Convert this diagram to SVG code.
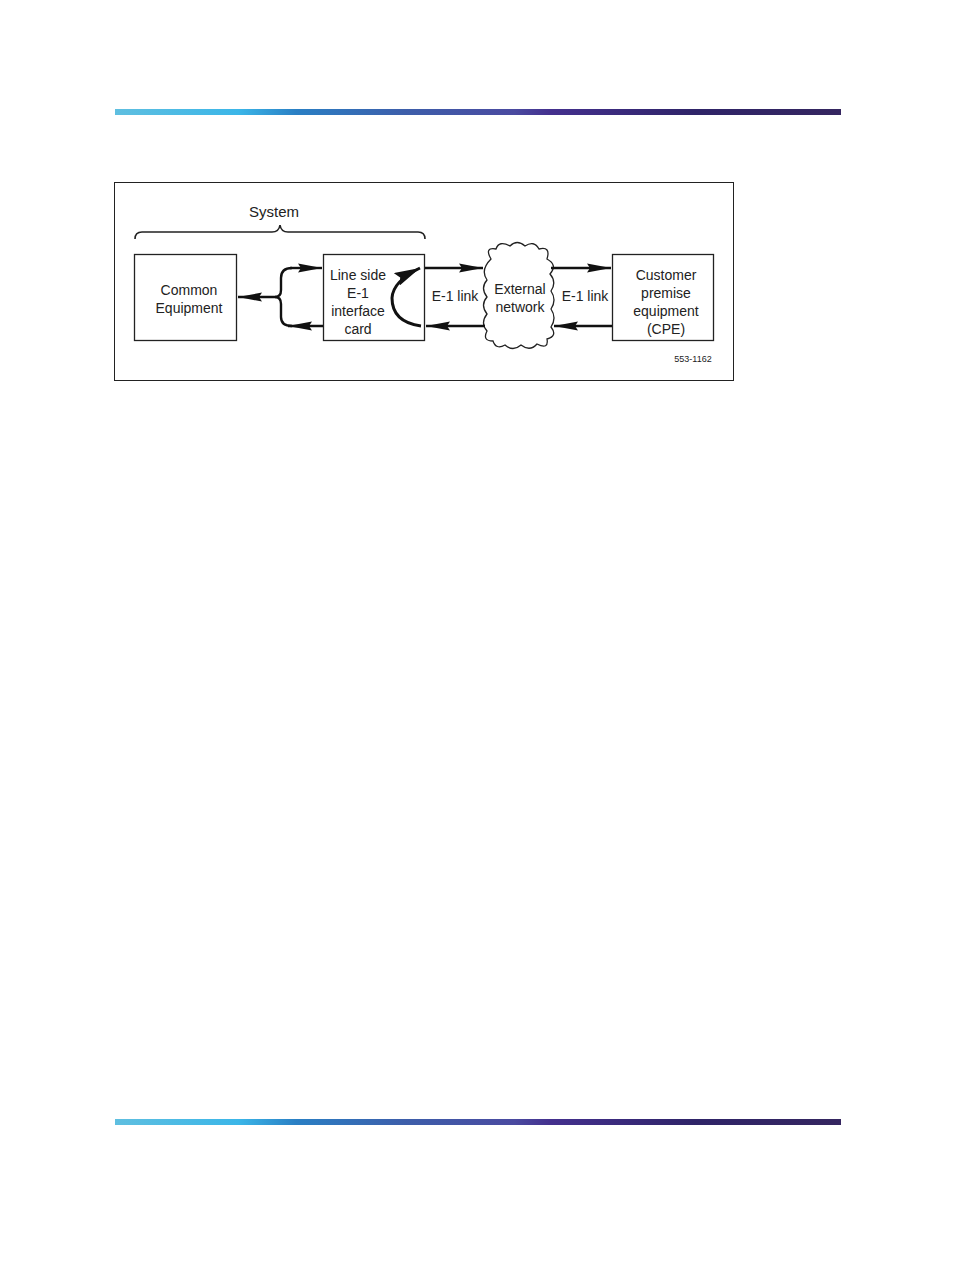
<svg xmlns="http://www.w3.org/2000/svg" width="954" height="1272" viewBox="0 0 954 1272">
<defs>
<linearGradient id="bar" x1="0" y1="0" x2="1" y2="0">
<stop offset="0" stop-color="#5fbfe0"/>
<stop offset="0.17" stop-color="#3bb6e8"/>
<stop offset="0.25" stop-color="#2a7fc4"/>
<stop offset="0.4" stop-color="#3d5eaa"/>
<stop offset="0.55" stop-color="#4a4aa0"/>
<stop offset="0.6" stop-color="#44308e"/>
<stop offset="0.8" stop-color="#2f2468"/>
<stop offset="1" stop-color="#352660"/>
</linearGradient>
<marker id="ah" viewBox="0 0 24 10" refX="24" refY="5" markerWidth="24" markerHeight="10" markerUnits="userSpaceOnUse" orient="auto">
<path d="M0,0.5 L24,5 L0,9.5 L3,5 Z" fill="#111"/>
</marker>
<marker id="ahb" viewBox="0 0 26 14" refX="26" refY="7" markerWidth="26" markerHeight="14" markerUnits="userSpaceOnUse" orient="auto">
<path d="M0,0 L26,7 L0,14 L4,7 Z" fill="#111"/>
</marker>
</defs>
<style>
.box{fill:#fff;stroke:#222;stroke-width:1.3}
.t{font-family:"Liberation Sans",Arial,sans-serif;font-size:14px;fill:#222;text-anchor:middle}
.ln{fill:none;stroke:#111;stroke-width:2.4}
</style>
<rect x="0" y="0" width="954" height="1272" fill="#fff"/>
<rect x="115" y="109" width="726" height="6" fill="url(#bar)"/>
<rect x="115" y="1119" width="726" height="6" fill="url(#bar)"/>
<rect x="114.5" y="182.5" width="619" height="198" fill="#fff" stroke="#222" stroke-width="1"/>
<g id="system-label">
<text class="t" x="274" y="217" style="font-size:15px">System</text>
<path d="M135,239 Q135,232 142,232 L272,232 Q279,232 280,225 Q281,232 288,232 L418,232 Q425,232 425,239" fill="none" stroke="#222" stroke-width="1.6"/>
</g>
<g id="common-equipment">
<rect class="box" x="134.5" y="254.5" width="102" height="86"/>
<text class="t" x="189" y="295">Common</text>
<text class="t" x="189" y="313">Equipment</text>
</g>
<g id="line-side-card">
<rect class="box" x="323.5" y="254.5" width="101" height="86"/>
<text class="t" x="358" y="280">Line side</text>
<text class="t" x="358" y="298">E-1</text>
<text class="t" x="358" y="316">interface</text>
<text class="t" x="358" y="334">card</text>
</g>
<g id="external-network">
<path d="M491,259 Q484,247 496,249 Q499,240 510,246 Q517,239 525,246 Q534,240 539,249 Q551,246 547,259 Q558,265 550,274 Q557,282 551,291 Q557,300 551,309 Q557,318 551,327 Q558,336 547,339 Q549,350 537,344 Q530,352 521,345 Q513,352 505,345 Q496,350 493,341 Q482,341 487,331 Q480,323 487,314 Q480,305 487,297 Q480,288 487,280 Q480,270 491,259 Z" fill="#fff" stroke="#222" stroke-width="1.3"/>
<text class="t" x="520" y="294">External</text>
<text class="t" x="520" y="312">network</text>
</g>
<g id="cpe">
<rect class="box" x="612.5" y="254.5" width="101" height="86"/>
<text class="t" x="666" y="280">Customer</text>
<text class="t" x="666" y="298">premise</text>
<text class="t" x="666" y="316">equipment</text>
<text class="t" x="666" y="334">(CPE)</text>
</g>
<g id="labels">
<text class="t" x="455" y="301">E-1 link</text>
<text class="t" x="585" y="301">E-1 link</text>
<text class="t" x="693" y="362" style="font-size:9px">553-1162</text>
</g>
<g id="connectors">
<path class="ln" d="M278,297 L238,297" marker-end="url(#ah)"/>
<path class="ln" d="M292,268 Q281,268 281,278 L281,290 Q281,297 275,297 Q281,297 281,304 L281,317 Q281,326 292,326"/>
<path class="ln" d="M290,268 L322,268" marker-end="url(#ah)"/>
<path class="ln" d="M323,326 L288,326" marker-end="url(#ah)"/>
<path d="M421,326 Q392,322 392,298 Q393,281 420,268" fill="none" stroke="#111" stroke-width="3" marker-end="url(#ahb)"/>
<path class="ln" d="M425,268 L483,268" marker-end="url(#ah)"/>
<path class="ln" d="M485,326 L426,326" marker-end="url(#ah)"/>
<path class="ln" d="M551,268 L611,268" marker-end="url(#ah)"/>
<path class="ln" d="M612,326 L554,326" marker-end="url(#ah)"/>
</g>
</svg>
